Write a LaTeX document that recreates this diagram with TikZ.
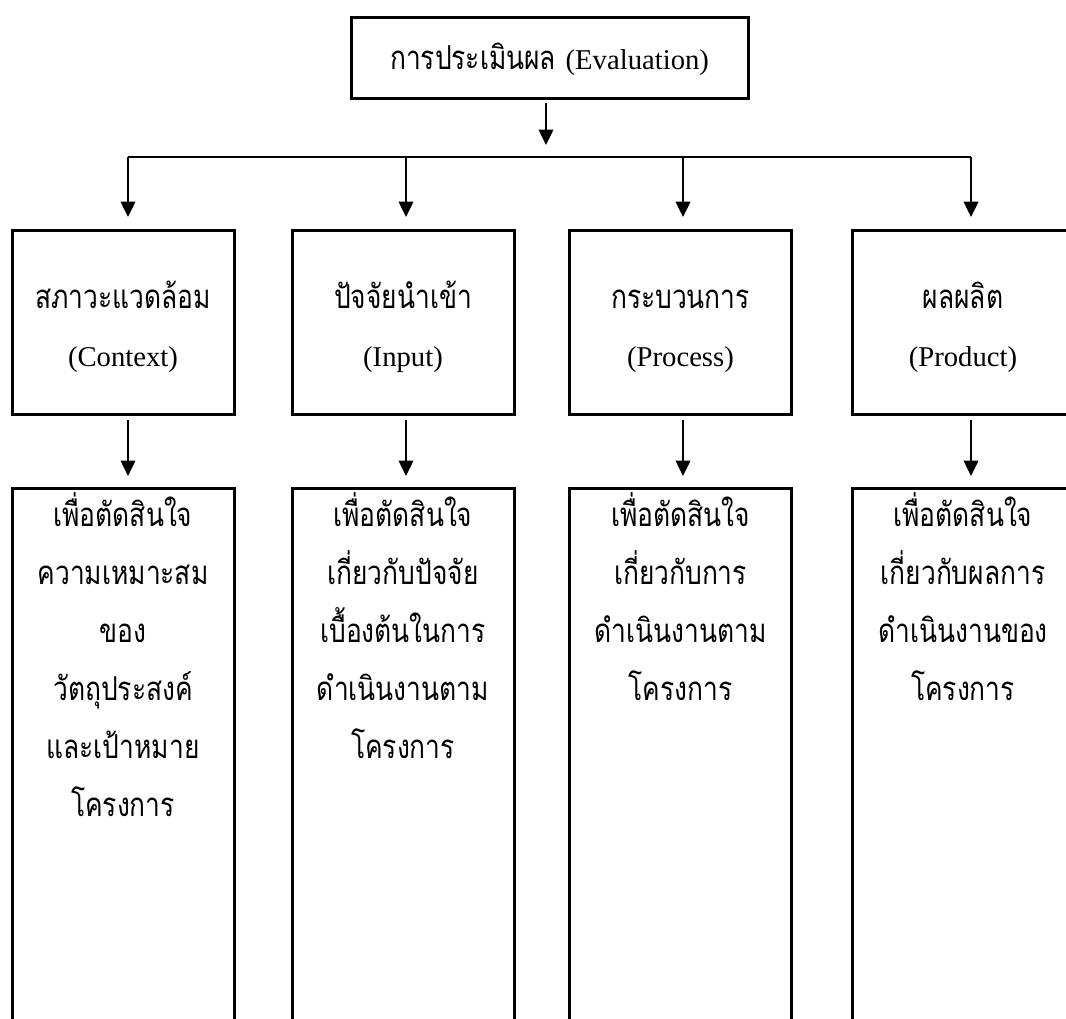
\documentclass[tikz,border=0pt]{standalone}
\usepackage{fontspec}
\setmainfont{Liberation Serif}
\newfontfamily\thai[Script=Thai,Scale=1.15,FakeStretch=0.8]{Loma}
\usetikzlibrary{arrows.meta}
\begin{document}
\begin{tikzpicture}[x=0.75pt,y=-0.75pt,
  box/.style={draw,line width=2.25pt,rectangle,inner sep=0pt,align=center,
    font=\fontsize{21.5}{43.5}\selectfont},
  topbox/.style={box,text width=297.75pt,text height=39pt,text depth=21.75pt,anchor=north},
  midbox/.style={box,text width=166.5pt,text height=58.5pt,text depth=79.5pt,anchor=north},
  lowbox/.style={box,text width=166.5pt,text height=28.5pt,text depth=450pt,anchor=north},
  conn/.style={line width=1pt},
  arr/.style={conn,-{Triangle[length=11.5pt,width=11pt]}}]
\useasboundingbox (0,0) rectangle (1066,1018);
\clip (0,0) rectangle (1066,1018);

% top box
\node[topbox] (top) at (549.5,16) {{\thai การประเมินผล} (Evaluation)};

% level 2
\node[midbox] (b1) at (123,229) {{\thai สภาวะแวดล้อม}\\(Context)};
\node[midbox] (b2) at (403,229) {{\thai ปัจจัยนำเข้า}\\(Input)};
\node[midbox] (b3) at (680.5,229) {{\thai กระบวนการ}\\(Process)};
\node[midbox] (b4) at (963,229) {{\thai ผลผลิต}\\(Product)};

% level 3
\node[lowbox] (d1) at (123,487) {\thai เพื่อตัดสินใจ\\ความเหมาะสม\\ของ\\วัตถุประสงค์\\และเป้าหมาย\\โครงการ};
\node[lowbox] (d2) at (403,487) {\thai เพื่อตัดสินใจ\\เกี่ยวกับปัจจัย\\เบื้องต้นในการ\\ดำเนินงานตาม\\โครงการ};
\node[lowbox] (d3) at (680.5,487) {\thai เพื่อตัดสินใจ\\เกี่ยวกับการ\\ดำเนินงานตาม\\โครงการ};
\node[lowbox] (d4) at (963,487) {\thai เพื่อตัดสินใจ\\เกี่ยวกับผลการ\\ดำเนินงานของ\\โครงการ};

% bus
\coordinate (c0) at (546,157);
\coordinate (c1) at (128,157);
\coordinate (c2) at (406,157);
\coordinate (c3) at (683,157);
\coordinate (c4) at (971,157);
\draw[conn] (c1) -- (c4);
\draw[arr,shorten <=2.25pt,shorten >=9pt] (c0 |- top.south) -- (c0);
\foreach \i in {1,2,3,4}{
  \draw[arr,shorten >=9pt] (c\i) -- (c\i |- b\i.north);
  \draw[arr,shorten <=3pt,shorten >=8.25pt] (c\i |- b\i.south) -- (c\i |- d\i.north);
}
\end{tikzpicture}
\end{document}
